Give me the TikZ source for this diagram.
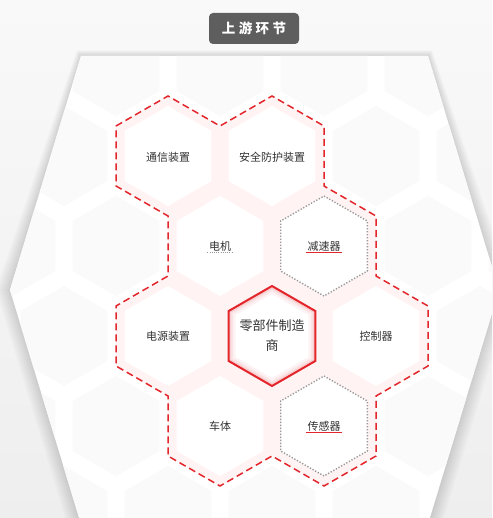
\documentclass[tikz,border=0pt]{standalone}
\usepackage{fontspec}
\newfontfamily\cjk{Noto Sans CJK SC}
\definecolor{pagebg}{HTML}{F3F3F3}
\definecolor{hexred}{HTML}{E3262B}
\definecolor{pinkband}{HTML}{FFF3F3}
\definecolor{faint}{HTML}{FAFAFA}
\definecolor{txt}{HTML}{333333}
\definecolor{badge}{HTML}{5E5E5E}
\definecolor{dotgray}{HTML}{999999}
\newcommand{\hexagonpath}[3]{({#1},{#2-#3}) -- ({#1+0.866*#3},{#2-0.5*#3}) -- ({#1+0.866*#3},{#2+0.5*#3}) -- ({#1},{#2+#3}) -- ({#1-0.866*#3},{#2+0.5*#3}) -- ({#1-0.866*#3},{#2-0.5*#3}) -- cycle}
\newcommand{\panelpath}[1]{({81-0.3*#1},{56-0.4*#1}) -- ({428+0.3*#1},{56-0.4*#1}) -- ({499+#1},290) -- ({428+#1},524) -- ({81-#1},524) -- ({10-#1},290) -- cycle}
\tikzset{
  celltext/.style={font=\cjk\fontsize{11}{13}\selectfont, text=txt, inner sep=1.5pt},
  outline/.style={draw=hexred, line width=1.5pt, dash pattern=on 7pt off 4pt},
  dotbox/.style={draw=dotgray, line width=1.4pt, dash pattern=on 1.3pt off 1.7pt},
}
\begin{document}
\begin{tikzpicture}[x=1pt,y=-1pt]
\useasboundingbox (0,0) rectangle (492,518);
\clip (0,0) rectangle (492,518);
% page background
\shade[top color=white!50!pagebg, bottom color=pagebg!98!black] (0,0) rectangle (492,518);
% soft shadow of the panel
\foreach \k in {14,12,10,8,6,4,2} {\fill[black, opacity=0.018] \panelpath{\k};}
% panel
\fill[white] \panelpath{0};
\begin{scope}
  \clip \panelpath{0};
  \foreach \yy in {156,336,516} \foreach \xx in {-40,64,168,272,376,480,584} {\fill[faint] \hexagonpath{\xx}{\yy}{50};}
  \foreach \yy in {66,246,426} \foreach \xx in {12,116,220,324,428,532} {\fill[faint] \hexagonpath{\xx}{\yy}{50};}
\end{scope}
% region
\fill[pinkband] (116,126) -- (168,96) -- (220,126) -- (272,96) -- (324,126) -- (324,186) -- (376,216) -- (376,276) -- (428,306) -- (428,366) -- (376,396) -- (376,456) -- (324,486) -- (272,456) -- (220,486) -- (168,456) -- (168,396) -- (116,366) -- (116,306) -- (168,276) -- (168,216) -- (116,186) -- cycle;
\foreach \xx/\yy in {168/156,272/156,220/246,324/246,168/336,272/336,376/336,220/426,324/426} {\fill[white] \hexagonpath{\xx}{\yy}{50};}
\draw[outline] (116,126) -- (168,96) -- (220,126) -- (272,96) -- (324,126) -- (324,186) -- (376,216) -- (376,276) -- (428,306) -- (428,366) -- (376,396) -- (376,456) -- (324,486) -- (272,456) -- (220,486) -- (168,456) -- (168,396) -- (116,366) -- (116,306) -- (168,276) -- (168,216) -- (116,186) -- cycle;
% dotted cells
\draw[dotbox] \hexagonpath{324}{246}{50};
\draw[dotbox] \hexagonpath{324}{426}{50};
% center cell
\begin{scope}
  \clip \hexagonpath{272}{336}{50};
  \draw[hexred, line width=14pt, opacity=0.05] \hexagonpath{272}{336}{50};
  \draw[hexred, line width=9pt, opacity=0.07] \hexagonpath{272}{336}{50};
  \draw[hexred, line width=5pt, opacity=0.10] \hexagonpath{272}{336}{50};
\end{scope}
\draw[hexred, line width=2pt, line join=miter] \hexagonpath{272}{336}{50};
% texts
\node[celltext] (tx) at (168,157) {通信装置};
\node[celltext] (aq) at (272,157) {安全防护装置};
\node[celltext] (dj) at (220,246) {电机};
\node[celltext] (jsq) at (324,246) {减速器};
\node[celltext] (dy) at (168,336) {电源装置};
\node[celltext, font=\cjk\fontsize{13}{20}\selectfont, align=center] (ls) at (272,336) {零部件制造\\商};
\node[celltext] (kz) at (376,336) {控制器};
\node[celltext] (ct) at (220,426) {车体};
\node[celltext] (cg) at (324,426) {传感器};
\draw[dotgray, line width=0.9pt, dash pattern=on 1pt off 1.2pt] (dj.south west) -- (dj.south east);
\draw[hexred, line width=1pt] (jsq.south west) -- (jsq.south east);
\draw[hexred, line width=1pt] (cg.south west) -- (cg.south east);
% title badge
\node[fill=badge, rounded corners=4pt, minimum width=90pt, minimum height=31pt, inner sep=0pt,
      font=\cjk\bfseries\fontsize{13.5}{15}\selectfont, text=white] (title) at (254,28.5)
  {上\hspace{3.5pt}游\hspace{3.5pt}环\hspace{3.5pt}节};
\end{tikzpicture}
\end{document}
